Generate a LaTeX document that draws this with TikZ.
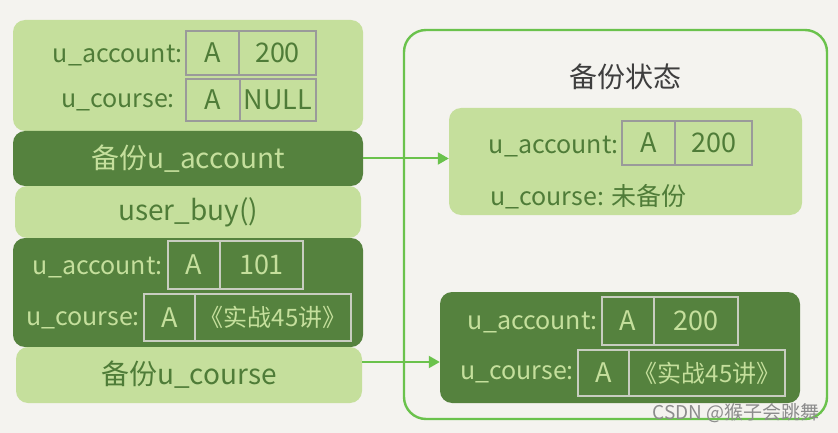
\documentclass[tikz,border=0pt]{standalone}
\usepackage{fontspec}
\setmainfont{Noto Sans CJK SC}
\usepackage{tikz}
\usetikzlibrary{arrows.meta, positioning, calc}
\definecolor{paper}{RGB}{244,243,239}
\definecolor{leafpale}{RGB}{197,223,156}
\definecolor{leafdark}{RGB}{85,130,62}
\definecolor{inkgreen}{RGB}{79,124,56}
\definecolor{framegreen}{RGB}{106,194,76}
\definecolor{cellgray}{RGB}{154,154,154}
\definecolor{cellpale}{RGB}{200,205,192}
\definecolor{titlegray}{RGB}{62,62,62}

\begin{document}
\begin{tikzpicture}[x=1pt, y=-1pt,
  pale/.style={rectangle, fill=leafpale, rounded corners=12pt, inner sep=0pt},
  dark/.style={rectangle, fill=leafdark, rounded corners=12pt, inner sep=0pt},
  mid/.style={font=\fontsize{28}{32}\selectfont, inner sep=0pt},
  lbl/.style={font=\fontsize{25}{28}\selectfont, inner sep=0pt},
  cell/.style={rectangle, line width=1.6pt, inner sep=0pt, outer sep=0pt,
               font=\fontsize{27}{29}\selectfont},
  cellp/.style={cell, draw=cellgray, text=inkgreen},
  celld/.style={cell, draw=cellpale, text=leafpale},
  flow/.style={-{Triangle[length=11pt, width=12pt]}, draw=framegreen,
               fill=framegreen, line width=2pt},
]
\useasboundingbox (0,0) rectangle (838,433);
\fill[paper] (0,0) rectangle (838,433);

% --- left column: timeline of the dump ---
\node[pale, minimum width=350pt, minimum height=111pt] (st0) at (188,75.5) {};
\node[dark, minimum width=350pt, minimum height=55pt] (bkacc) at (188,158.5) {};
\node[pale, minimum width=346pt, minimum height=52pt] (buy) at (188,212) {};
\node[dark, minimum width=350pt, minimum height=109pt] (st1) at (188,292.5) {};
\node[pale, minimum width=346pt, minimum height=56pt] (bkcrs) at (189,375) {};

\node[mid, text=leafpale] at (bkacc) {备份u\_account};
\node[mid, text=inkgreen] at (buy) {user\_buy()};
\node[mid, text=inkgreen] at (bkcrs) {备份u\_course};

% initial rows
\node[lbl, text=inkgreen, anchor=east] (a0) at (183,56) {u\_account:};
\node[cellp, minimum width=53pt, minimum height=44pt, anchor=north west] (a0k) at (186,31) {A};
\node[cellp, minimum width=77pt, minimum height=44pt, right=0pt of a0k] (a0v) {200};
\node[lbl, text=inkgreen, anchor=east] (c0) at (175,102) {u\_course:};
\node[cellp, minimum width=54pt, minimum height=42pt, anchor=north west] (c0k) at (186,79) {A};
\node[cellp, minimum width=76pt, minimum height=42pt, right=0pt of c0k] (c0v) {NULL};

% rows after user_buy()
\node[lbl, text=leafpale, anchor=east] (a1) at (163,268) {u\_account:};
\node[celld, minimum width=52pt, minimum height=48pt, anchor=north west] (a1k) at (168,241) {A};
\node[celld, minimum width=83pt, minimum height=48pt, right=0pt of a1k] (a1v) {101};
\node[lbl, text=leafpale, anchor=east] (c1) at (140,320) {u\_course:};
\node[celld, minimum width=51pt, minimum height=47pt, anchor=north west] (c1k) at (144,294) {A};
\node[celld, minimum width=156pt, minimum height=47pt, right=0pt of c1k,
      font=\fontsize{24}{26}\selectfont] (c1v) {《实战45讲》};

% --- right: backup state ---
\node[rectangle, draw=framegreen, line width=2.4pt, rounded corners=22pt,
      minimum width=423pt, minimum height=389pt] (box) at (615.5,224.5) {};
\node[mid, text=titlegray] (title) at (625,77) {备份状态};

\node[pale, minimum width=353pt, minimum height=107pt] (snap1) at (625.5,161.5) {};
\node[dark, minimum width=360pt, minimum height=111pt] (snap2) at (620,347.5) {};

\node[lbl, text=inkgreen, anchor=east] (sa1) at (619,147) {u\_account:};
\node[cellp, minimum width=53pt, minimum height=44pt, anchor=north west] (sa1k) at (622,121) {A};
\node[cellp, minimum width=77pt, minimum height=44pt, right=0pt of sa1k] (sa1v) {200};
\node[lbl, text=inkgreen, anchor=west] (sc1) at (490,197) {u\_course: 未备份};

\node[lbl, text=leafpale, anchor=east] (sa2) at (598,323) {u\_account:};
\node[celld, minimum width=52pt, minimum height=48pt, anchor=north west] (sa2k) at (602,297) {A};
\node[celld, minimum width=84pt, minimum height=48pt, right=0pt of sa2k] (sa2v) {200};
\node[lbl, text=leafpale, anchor=east] (sc2) at (574,374) {u\_course:};
\node[celld, minimum width=51pt, minimum height=46pt, anchor=north west] (sc2k) at (578,350) {A};
\node[celld, minimum width=156pt, minimum height=46pt, right=0pt of sc2k,
      font=\fontsize{24}{26}\selectfont] (sc2v) {《实战45讲》};

% --- copies ---
\draw[flow] (bkacc.east) -- (bkacc.east -| snap1.west);
\draw[flow] ([yshift=13pt]bkcrs.east) -- ([yshift=13pt]bkcrs.east -| snap2.west);

\node[font=\fontsize{19}{21}\selectfont, text=black!45, inner sep=0pt] (mark) at (736,413) {CSDN @猴子会跳舞};
\end{tikzpicture}
\end{document}
